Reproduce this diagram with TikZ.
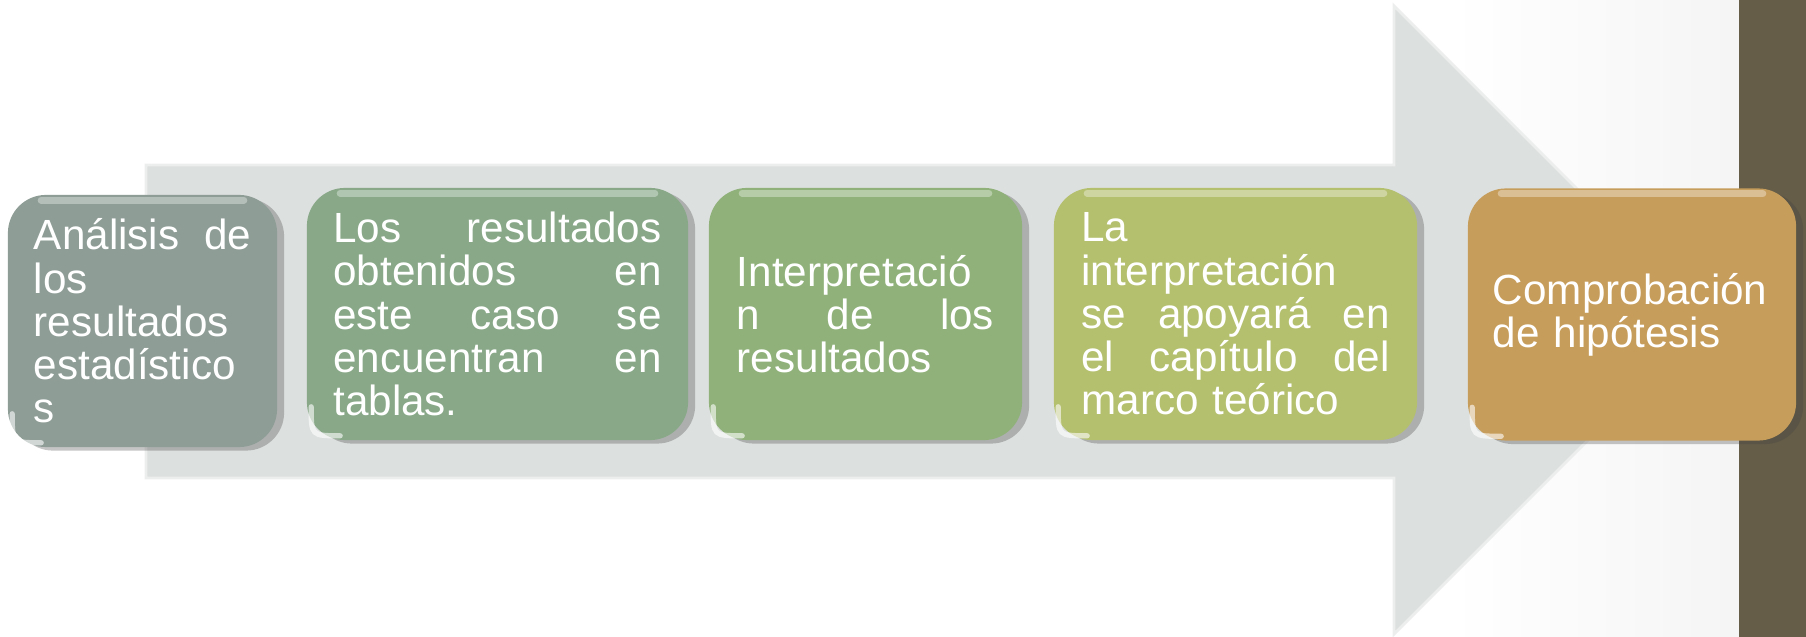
\documentclass[tikz,border=0pt]{standalone}
\usepackage{fontspec}
\setmainfont{Liberation Sans}
\usepackage{xcolor}
\usetikzlibrary{shadows}
\definecolor{arrowgray}{HTML}{DCE0DF}
\definecolor{arrowedge}{HTML}{ECEEED}
\definecolor{barbrown}{HTML}{655D48}
\definecolor{boxone}{HTML}{8E9D96}
\definecolor{boxtwo}{HTML}{88A888}
\definecolor{boxthree}{HTML}{90B27A}
\definecolor{boxfour}{HTML}{B5C06F}
\definecolor{boxfive}{HTML}{C79D5B}
\tikzset{
    stage-box/.style = {rectangle, rounded corners=0.38cm, text=white, font=\fontsize{12}{12.3}\selectfont, align=left, inner sep=0pt, minimum height=2.52cm, drop shadow={shadow xshift=2pt, shadow yshift=-1pt, opacity=0.3, fill=black!75}},
    stage-gloss/.style = {white, opacity=0.35, line width=2pt, line cap=round},
}

\begin{document}
\begin{tikzpicture}[x=0.01cm, y=-0.01cm]
\useasboundingbox (0,0) rectangle (1806,637);
\fill[white] (0,0) rectangle (1806,637);
\shade[left color=white, right color=black!4] (1450,0) rectangle (1739,637);
% big arrow behind the steps
\filldraw[fill=arrowgray, draw=arrowedge, line width=0.8pt] (146,165) -- (1394,165) -- (1394,6) -- (1708,320) -- (1394,634) -- (1394,478) -- (146,478) -- cycle;
\fill[barbrown] (1739,0) rectangle (1806,637);

\node[stage-box, fill=boxone, minimum width=2.69cm, text width=2.17cm] (analisis) at (142.5,321) {An\'alisis\hfill de\\los\\resultados\\estad\'istico\\s};
\node[stage-box, fill=boxtwo, minimum width=3.81cm, text width=3.28cm] (obtenidos) at (497.5,314) {Los\hfill resultados\\obtenidos\hfill en\\este\hfill caso\hfill se\\encuentran\hfill en\\tablas.};
\node[stage-box, fill=boxthree, minimum width=3.13cm, text width=2.57cm] (interpretacion) at (865.5,314) {Interpretaci\'o\\n\hfill de\hfill los\\resultados};
\node[stage-box, fill=boxfour, minimum width=3.63cm, text width=3.08cm] (apoyo) at (1235.5,314) {La\\interpretaci\'on\\se\hfill apoyar\'a\hfill en\\el\hfill cap\'itulo\hfill del\\marco te\'orico};
\node[stage-box, fill=boxfive, minimum width=3.28cm, text width=2.78cm] (hipotesis) at (1632,314.5) {Comprobaci\'on\\de hip\'otesis};

% glossy edges
\foreach \n in {analisis, obtenidos, interpretacion, apoyo, hipotesis} {
    \draw[stage-gloss] ([shift={(34,6)}]\n.north west) -- ([shift={(-34,6)}]\n.north east);
    \draw[stage-gloss, opacity=0.6, line width=1.5pt] ([shift={(5,-34)}]\n.south west) .. controls ([shift={(5,-5)}]\n.south west) .. ([shift={(34,-5)}]\n.south west);
}
\end{tikzpicture}
\end{document}
